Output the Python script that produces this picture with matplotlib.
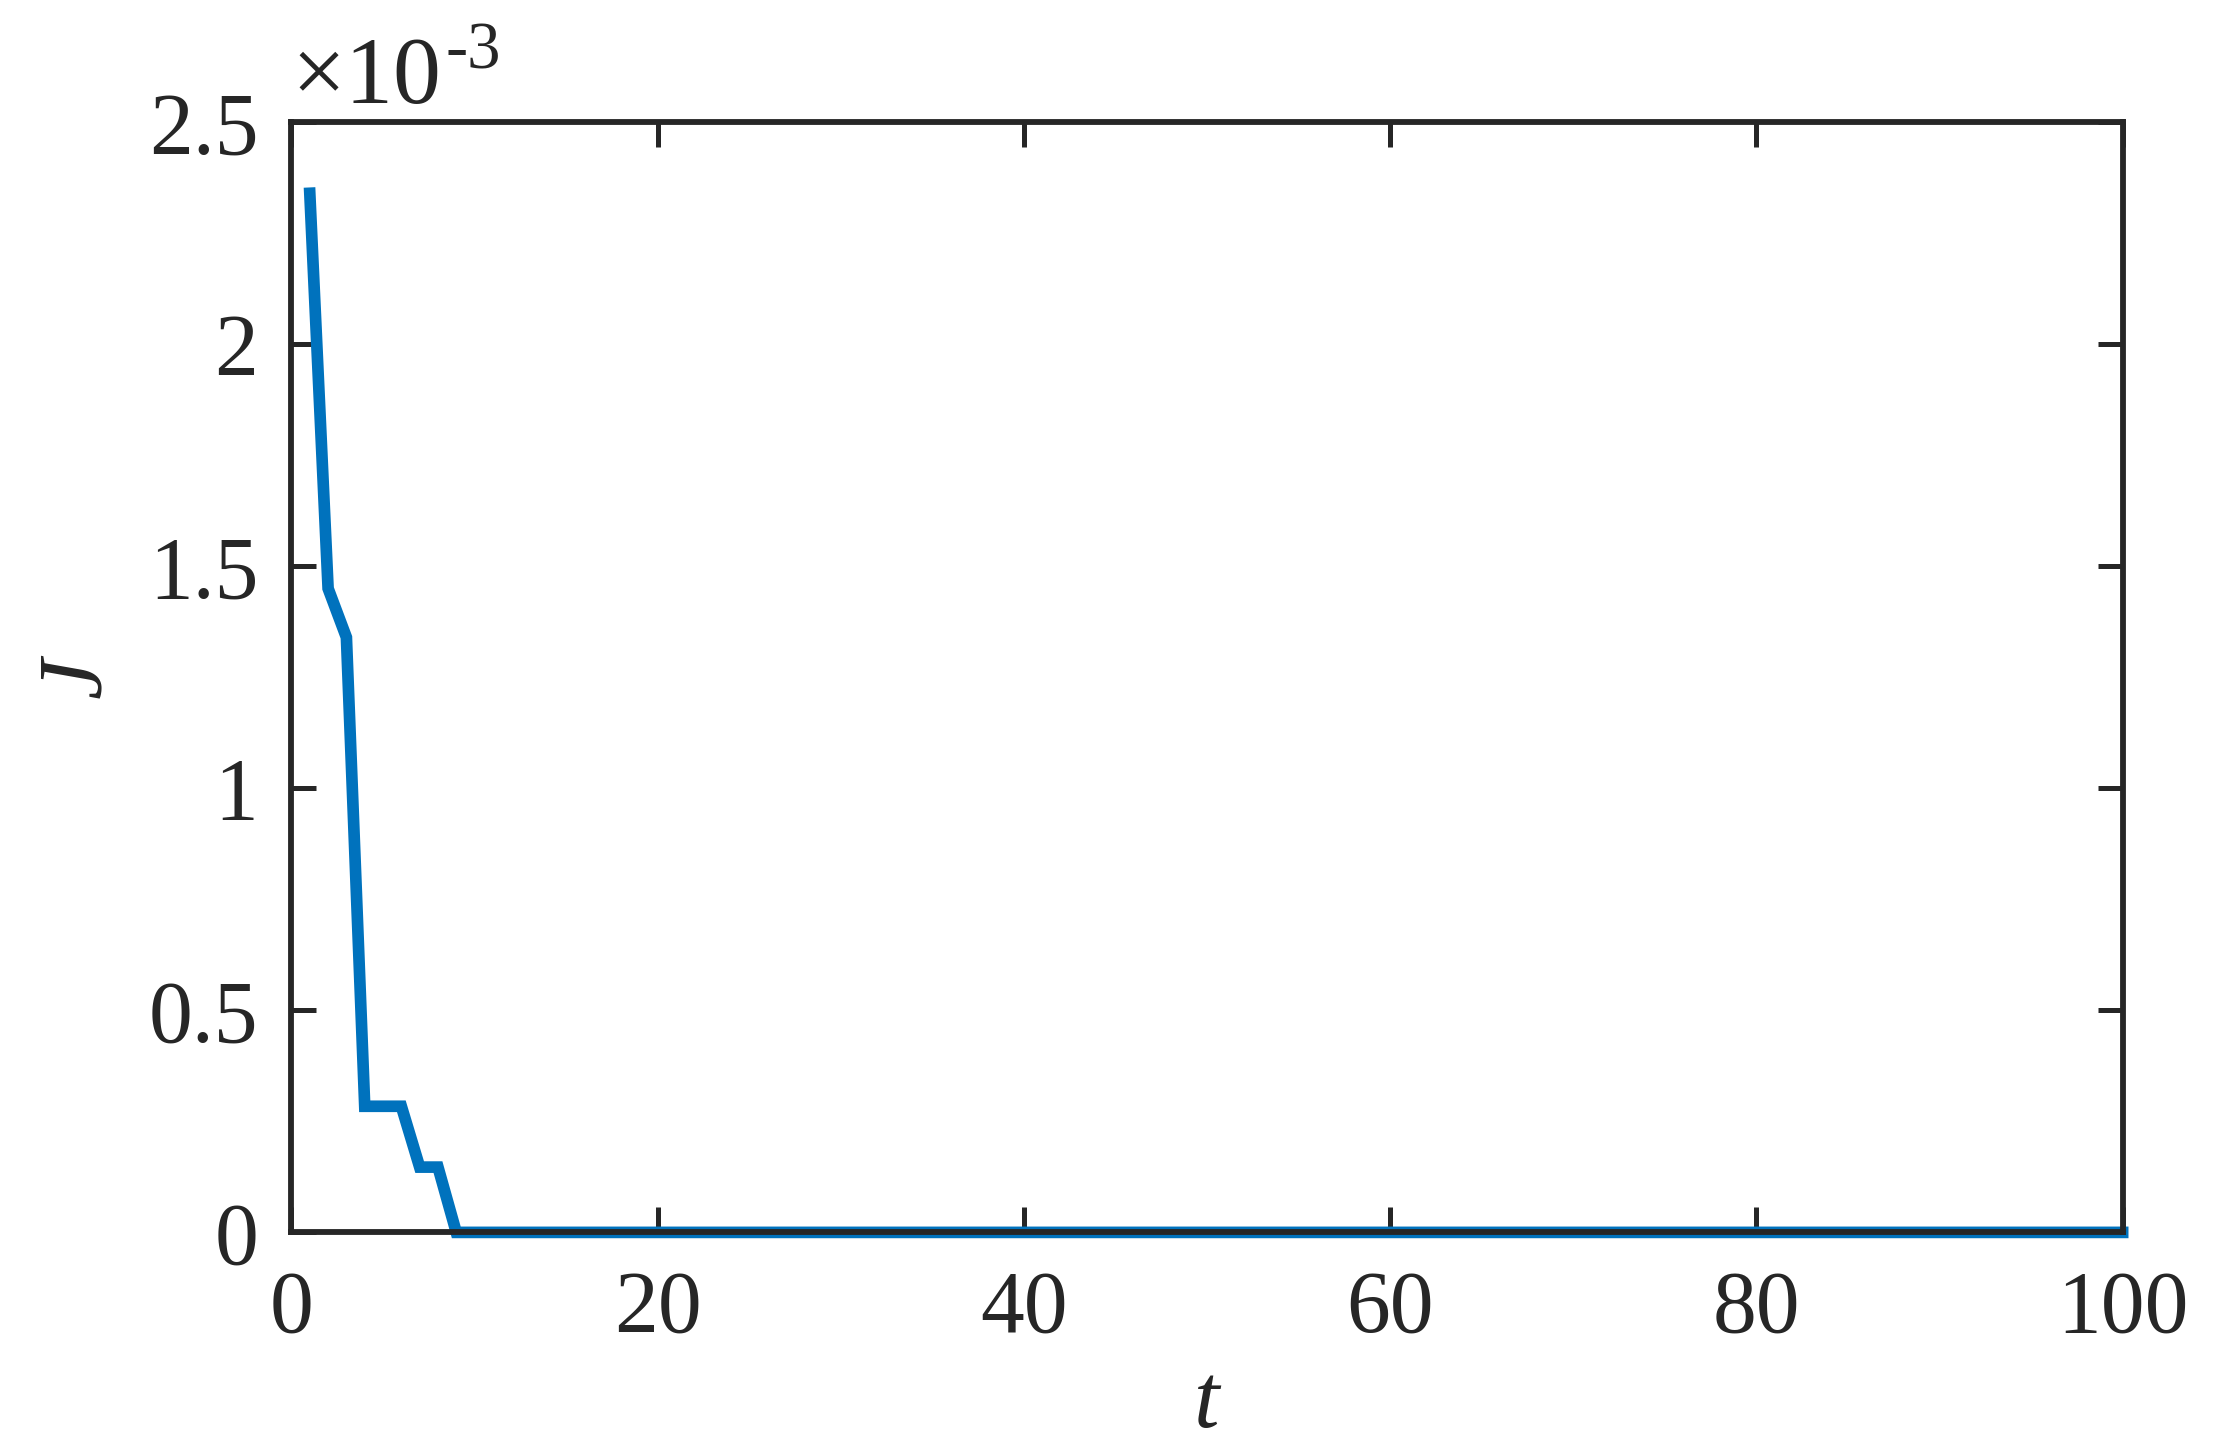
import numpy as np
import matplotlib.pyplot as plt
from matplotlib.ticker import FuncFormatter

# iteration index and cost J (units of 1e-3)
t = np.arange(1, 101)
j_head = [2.34, 1.45, 1.34, 0.284, 0.284, 0.284, 0.147, 0.147, 0.0]
J = np.concatenate([j_head, np.zeros(len(t) - len(j_head))]) * 1e-3

xticks = [0, 20, 40, 60, 80, 100]
yticks = [0, 0.5e-3, 1e-3, 1.5e-3, 2e-3, 2.5e-3]

plt.rcParams['font.family'] = ['Liberation Serif', 'DejaVu Serif']

fig = plt.figure(figsize=(2225 / 300, 1455 / 300), dpi=300)
ax = fig.add_axes([0.131, 0.153, 0.823, 0.763])

ax.plot(t, J, color='#0072BD', lw=2.8, solid_joinstyle='miter', clip_on=False)

ax.set_xlim(0, 100)
ax.set_ylim(0, 2.5e-3)
ax.set_xticks(xticks)
ax.set_yticks(yticks)
ax.yaxis.set_major_formatter(FuncFormatter(lambda v, p: '%g' % round(v * 1e3, 3)))

for s in ax.spines.values():
    s.set_linewidth(1.4)
    s.set_color('#262626')
ax.tick_params(direction='in', length=6, width=1.2, color='#262626',
               top=True, right=True, labelsize=21, labelcolor='#262626')
ax.tick_params(axis='x', pad=9)
ax.tick_params(axis='y', pad=8)

ax.set_xlabel('t', fontsize=22, style='italic', color='#262626', labelpad=3)
ax.set_ylabel('J', fontsize=22, style='italic', color='#262626', labelpad=7)

# MATLAB style exponent above the axes
fig.text(0.131, 0.929, '\u00d710', fontsize=23, color='#262626', va='baseline')
fig.text(0.200, 0.953, '-3', fontsize=16, color='#262626', va='baseline')

fig.savefig('out.png', dpi=300, facecolor='white')
